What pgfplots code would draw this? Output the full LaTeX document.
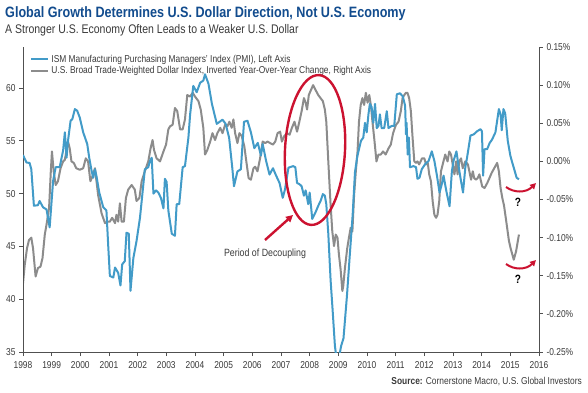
\documentclass[border=0pt]{standalone}
\usepackage{fontspec}
\setmainfont{Liberation Sans}[FakeStretch=0.84]
\usepackage{pgfplots}
\usepackage{pgfplotstable}
\pgfplotsset{compat=1.18}
\usetikzlibrary{arrows.meta}
\definecolor{pmiblue}{HTML}{429BC8}
\definecolor{usdgray}{HTML}{8C8C8C}
\definecolor{titleblue}{HTML}{124C8E}
\definecolor{annred}{HTML}{CC1230}
\definecolor{txtgray}{HTML}{3A3A3A}
\definecolor{axgray}{HTML}{505050}

\pgfplotstableread{
year pmi
1998.00 53.65
1998.12 52.95
1998.23 52.9
1998.29 52.3
1998.38 48.85
1998.52 48.9
1998.58 49.3
1998.70 48.7
1998.82 48.5
1998.93 46.8
1999.05 51.2
1999.14 52.5
1999.28 52.5
1999.40 54.1
1999.46 55.8
1999.52 53.4
1999.57 55.0
1999.66 56.9
1999.72 57.05
1999.81 58.0
1999.89 57.85
1999.98 57.2
2000.10 55.8
2000.24 54.7
2000.31 53.4
2000.39 52.2
2000.45 51.5
2000.51 52.3
2000.56 51.7
2000.66 50.1
2000.80 48.7
2000.91 48.4
2000.97 45.2
2001.03 42.2
2001.15 42.05
2001.21 43.0
2001.32 42.5
2001.40 41.3
2001.46 43.3
2001.55 43.6
2001.61 46.3
2001.69 46.2
2001.75 40.8
2001.85 43.9
2001.96 45.5
2002.08 47.7
2002.17 50.1
2002.25 52.3
2002.37 52.5
2002.43 53.1
2002.49 53.4
2002.55 50.0
2002.64 50.3
2002.72 50.1
2002.81 49.6
2002.90 48.6
2002.95 51.4
2003.01 51.1
2003.07 48.4
2003.19 46.2
2003.30 46.0
2003.36 49.0
2003.45 49.0
2003.57 52.5
2003.65 52.6
2003.77 55.3
2003.83 57.5
2003.94 60.2
2004.06 59.6
2004.18 60.5
2004.29 60.7
2004.35 61.3
2004.47 60.4
2004.59 58.5
2004.76 56.6
2004.96 57.0
2005.07 56.6
2005.19 55.3
2005.30 52.45
2005.36 50.7
2005.48 52.1
2005.60 52.3
2005.71 56.8
2005.83 56.9
2005.95 55.8
2006.07 54.3
2006.19 54.8
2006.30 53.6
2006.36 54.7
2006.48 53.1
2006.60 51.8
2006.72 52.4
2006.83 51.7
2006.95 51.0
2007.06 49.6
2007.14 50.4
2007.26 52.45
2007.42 52.6
2007.50 52.5
2007.56 51.0
2007.64 50.9
2007.72 50.7
2007.80 49.8
2007.86 50.3
2007.95 49.0
2008.00 50.1
2008.09 47.6
2008.20 48.2
2008.30 48.85
2008.38 49.3
2008.46 49.95
2008.53 49.8
2008.58 49.0
2008.65 46.2
2008.73 41.8
2008.80 39.0
2008.88 35.6
2008.94 34.3
2009.03 34.6
2009.10 35.6
2009.18 36.3
2009.30 40.3
2009.40 44.2
2009.50 48.0
2009.58 52.0
2009.66 53.5
2009.72 54.2
2009.79 55.0
2009.87 55.3
2009.93 56.7
2009.99 55.8
2010.05 57.5
2010.10 58.5
2010.16 58.2
2010.22 56.7
2010.28 58.5
2010.34 56.2
2010.40 56.4
2010.45 57.5
2010.51 56.2
2010.60 56.2
2010.69 57.8
2010.75 56.2
2010.86 56.4
2010.95 56.4
2011.04 59.4
2011.15 59.5
2011.25 59.2
2011.33 58.3
2011.36 55.6
2011.38 56.7
2011.42 53.7
2011.46 55.3
2011.50 52.5
2011.62 52.6
2011.71 52.5
2011.76 51.4
2011.83 51.5
2011.91 52.3
2012.03 52.8
2012.15 53.1
2012.26 54.0
2012.35 53.1
2012.44 51.7
2012.53 50.1
2012.61 50.9
2012.67 51.7
2012.77 50.2
2012.88 48.8
2012.96 52.1
2013.02 53.1
2013.12 54.0
2013.20 52.5
2013.26 51.5
2013.35 50.1
2013.43 52.5
2013.49 53.4
2013.61 55.5
2013.72 55.6
2013.84 55.9
2013.96 56.1
2014.01 55.9
2014.05 51.7
2014.10 54.2
2014.19 54.2
2014.28 54.8
2014.36 55.1
2014.48 55.8
2014.60 58.0
2014.66 57.5
2014.70 56.0
2014.76 58.0
2014.82 57.6
2014.91 55.0
2015.00 53.6
2015.06 53.0
2015.12 52.45
2015.22 51.5
2015.30 51.35
}\pmidata

\pgfplotstableread{
year usd
1998.00 -0.160
1998.06 -0.136
1998.14 -0.114
1998.21 -0.103
1998.29 -0.100
1998.35 -0.114
1998.44 -0.151
1998.52 -0.140
1998.61 -0.138
1998.68 -0.127
1998.76 -0.096
1998.82 -0.083
1998.91 -0.061
1998.97 -0.013
1999.01 0.013
1999.07 -0.013
1999.14 -0.031
1999.22 -0.026
1999.31 -0.009
1999.40 0.000
1999.46 0.002
1999.57 0.026
1999.63 0.017
1999.69 0.000
1999.77 -0.002
1999.86 -0.009
1999.98 -0.011
2000.10 -0.009
2000.19 0.004
2000.27 0.000
2000.35 -0.026
2000.42 -0.020
2000.51 -0.009
2000.62 -0.044
2000.74 -0.068
2000.86 -0.081
2000.94 -0.079
2001.03 -0.079
2001.11 -0.074
2001.21 -0.081
2001.26 -0.070
2001.32 -0.079
2001.38 -0.055
2001.44 -0.079
2001.52 -0.079
2001.59 -0.048
2001.67 -0.037
2001.79 -0.031
2001.90 -0.037
2001.96 -0.052
2002.06 -0.048
2002.14 -0.026
2002.25 -0.013
2002.37 0.000
2002.45 0.017
2002.52 0.028
2002.57 0.015
2002.66 0.004
2002.78 0.000
2002.90 0.013
2002.99 0.022
2003.07 0.042
2003.13 0.046
2003.22 0.048
2003.30 0.070
2003.38 0.066
2003.48 0.042
2003.57 0.042
2003.65 0.055
2003.73 0.087
2003.83 0.085
2003.92 0.090
2004.00 0.085
2004.12 0.079
2004.20 0.068
2004.29 0.044
2004.35 0.009
2004.43 0.015
2004.53 0.026
2004.61 0.037
2004.70 0.028
2004.78 0.037
2004.88 0.044
2004.96 0.037
2005.05 0.048
2005.13 0.046
2005.20 0.052
2005.28 0.044
2005.34 0.055
2005.40 0.037
2005.48 0.024
2005.55 0.037
2005.63 0.033
2005.72 0.020
2005.79 0.000
2005.87 -0.022
2005.95 -0.024
2006.04 -0.009
2006.10 -0.007
2006.18 -0.013
2006.27 0.004
2006.36 0.026
2006.45 0.024
2006.53 0.026
2006.62 0.024
2006.72 0.022
2006.80 0.026
2006.88 0.037
2006.97 0.039
2007.03 0.026
2007.11 0.033
2007.21 0.037
2007.30 0.035
2007.38 0.044
2007.47 0.052
2007.56 0.039
2007.64 0.052
2007.72 0.066
2007.80 0.083
2007.86 0.077
2007.91 0.068
2007.97 0.087
2008.05 0.094
2008.12 0.100
2008.20 0.094
2008.30 0.087
2008.38 0.083
2008.46 0.079
2008.53 0.068
2008.58 0.052
2008.65 0.000
2008.73 -0.057
2008.79 -0.092
2008.85 -0.111
2008.91 -0.096
2008.97 -0.100
2009.02 -0.122
2009.08 -0.142
2009.14 -0.170
2009.17 -0.164
2009.23 -0.140
2009.31 -0.114
2009.37 -0.100
2009.43 -0.087
2009.49 -0.092
2009.55 -0.044
2009.61 -0.013
2009.67 0.013
2009.72 0.052
2009.78 0.074
2009.84 0.083
2009.90 0.074
2009.96 0.090
2010.02 0.077
2010.08 0.087
2010.14 0.072
2010.19 0.052
2010.25 0.031
2010.33 0.000
2010.40 0.009
2010.48 0.009
2010.56 0.013
2010.65 0.009
2010.75 0.017
2010.83 0.022
2010.91 0.037
2011.01 0.048
2011.10 0.052
2011.18 0.066
2011.24 0.083
2011.30 0.087
2011.36 0.090
2011.41 0.090
2011.47 0.083
2011.53 0.066
2011.59 0.031
2011.65 0.000
2011.71 -0.002
2011.76 0.000
2011.82 -0.004
2011.92 0.004
2012.00 0.004
2012.06 -0.004
2012.12 -0.002
2012.17 -0.017
2012.23 -0.026
2012.29 -0.052
2012.35 -0.070
2012.41 -0.074
2012.46 -0.070
2012.52 -0.052
2012.58 -0.013
2012.64 -0.004
2012.73 0.009
2012.81 0.000
2012.87 0.013
2012.93 0.009
2012.99 -0.004
2013.05 -0.017
2013.11 0.000
2013.16 -0.017
2013.22 0.000
2013.28 0.004
2013.34 -0.009
2013.43 0.000
2013.52 -0.004
2013.57 -0.013
2013.63 -0.024
2013.69 -0.013
2013.74 -0.022
2013.80 -0.024
2013.86 -0.022
2013.92 -0.017
2014.02 -0.033
2014.10 -0.035
2014.20 -0.028
2014.35 -0.015
2014.54 -0.002
2014.60 -0.013
2014.66 -0.035
2014.72 -0.048
2014.78 -0.058
2014.87 -0.082
2014.95 -0.104
2015.01 -0.114
2015.12 -0.129
2015.20 -0.118
2015.30 -0.096
}\usddata

\pgfplotsset{
  common/.style={
    at={(23pt,40pt)}, anchor=south west,
    scale only axis, width=516pt, height=305pt,
    xmin=1998, xmax=2016,
    axis line style={-, axgray, line width=0.9pt},
    tick style={axgray, line width=0.9pt},
    tick align=outside,
    major tick length=4pt,
    /pgf/number format/assume math mode=true,
    ticklabel style={font=\fontsize{10}{11}\selectfont, text=txtgray},
  }
}

\begin{document}
\begin{tikzpicture}[x=1pt,y=1pt]
\fill[white] (0,0) rectangle (588,392);
\path[use as bounding box] (0,0) rectangle (588,392);

% right axis: gray dollar series
\begin{axis}[common,
  axis y line*=right, axis x line=none,
  ymin=-0.25, ymax=0.15,
  ytick={-0.25,-0.2,-0.15,-0.1,-0.05,0,0.05,0.1,0.15},
  yticklabel={\pgfmathprintnumber[fixed,fixed zerofill,precision=2]{\tick}\%},
]
\addplot[usdgray, line width=2pt, line join=round] table[x=year,y=usd]{\usddata};
\end{axis}

% left axis: blue PMI series
\begin{axis}[common,
  axis y line*=left, axis x line*=bottom,
  ymin=35, ymax=63.88,
  ytick={35,40,45,50,55,60},
  xtick={1998,1999,...,2016},
  xticklabel style={/pgf/number format/1000 sep={}, yshift=-1.5pt},
  legend style={draw=none, fill=none, at={(0.012,0.985)}, anchor=north west,
    font=\fontsize{10}{11}\selectfont, text=txtgray, row sep=-1pt, inner sep=1pt},
  legend cell align=left,
]
\addplot[pmiblue, line width=2pt, line join=round] table[x=year,y=pmi]{\pmidata};
\addlegendentry{ISM Manufacturing Purchasing Managers' Index (PMI), Left Axis}
\addlegendimage{usdgray, line width=2pt}
\addlegendentry{U.S. Broad Trade-Weighted Dollar Index, Inverted Year-Over-Year Change, Right Axis}
\end{axis}

% titles
\node[anchor=base west, inner sep=0, text=titleblue, font=\fontsize{15}{17}\selectfont\bfseries] at (5,374) {Global Growth Determines U.S. Dollar Direction, Not U.S. Economy};
\node[anchor=base west, inner sep=0, text=txtgray, font=\fontsize{12.5}{14}\selectfont] at (5,359) {A Stronger U.S. Economy Often Leads to a Weaker U.S. Dollar};
\node[anchor=base east, inner sep=0, text=txtgray, font=\fontsize{10}{12}\selectfont] at (582,8) {\textbf{Source:} Cornerstone Macro, U.S. Global Investors};

% annotations
\draw[annred, line width=2.4pt, rotate around={-3:(315,242)}] (315,242) ellipse [x radius=30, y radius=75];
\draw[annred, line width=2.4pt, -{Triangle[length=7pt,width=7pt]}] (265,152) -- (293,177);
\node[text=txtgray, font=\fontsize{10.5}{12}\selectfont, anchor=base] at (265,136) {Period of Decoupling};
\draw[annred, line width=2pt, -{Triangle[length=6pt,width=6pt]}] (506,205) .. controls (514,199) and (526,199) .. (536,209);
\draw[annred, line width=2pt, -{Triangle[length=6pt,width=6pt]}] (506,128) .. controls (514,122) and (526,122) .. (536,132);
\node[font=\fontsize{12}{14}\selectfont\bfseries, text=black] at (518,190) {?};
\node[font=\fontsize{12}{14}\selectfont\bfseries, text=black] at (518,113) {?};
\end{tikzpicture}
\end{document}
